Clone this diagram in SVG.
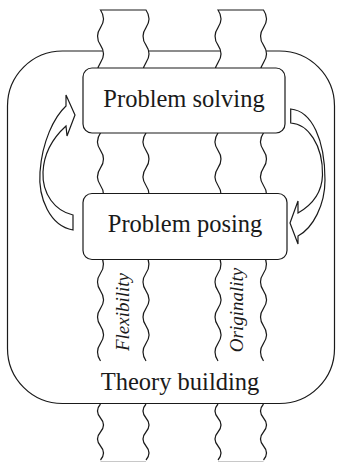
<svg xmlns="http://www.w3.org/2000/svg" xmlns:xlink="http://www.w3.org/1999/xlink" width="338" height="463" viewBox="0 0 338 463">
<style>
.ln{fill:none;stroke:#1a1a1a;stroke-width:1.2}
.fl{fill:#fff;stroke:none}
.bx{fill:#fff;stroke:#1a1a1a;stroke-width:1.2}
.t{font-family:"Liberation Serif","Times New Roman",serif;font-size:24.5px;fill:#1a1a1a;text-anchor:middle}
.ti{font-family:"Liberation Serif","Times New Roman",serif;font-size:19px;font-style:italic;fill:#1a1a1a;text-anchor:middle}
</style>
<defs>
<path id="upFill" class="fl" d="M100.5 10 q6 8.775 0 17.55 t0 17.55 t0 17.55 t0 17.55 t0 17.55 t0 17.55 t0 17.55 t0 17.55 t0 17.55 t0 17.55 t0 17.55 t0 17.55 t0 17.55 t0 17.55 t0 17.55 t0 17.55 t0 17.55 t0 17.55 t0 17.55 t0 17.55 L146 361 q-6 -8.775 0 -17.55 t0 -17.55 t0 -17.55 t0 -17.55 t0 -17.55 t0 -17.55 t0 -17.55 t0 -17.55 t0 -17.55 t0 -17.55 t0 -17.55 t0 -17.55 t0 -17.55 t0 -17.55 t0 -17.55 t0 -17.55 t0 -17.55 t0 -17.55 t0 -17.55 t0 -17.55 Z"/>
<path id="upLine" class="ln" d="M100.5 361 q-6 -8.775 0 -17.55 t0 -17.55 t0 -17.55 t0 -17.55 t0 -17.55 t0 -17.55 t0 -17.55 t0 -17.55 t0 -17.55 t0 -17.55 t0 -17.55 t0 -17.55 t0 -17.55 t0 -17.55 t0 -17.55 t0 -17.55 t0 -17.55 t0 -17.55 t0 -17.55 t0 -17.55 H146 q6 8.775 0 17.55 t0 17.55 t0 17.55 t0 17.55 t0 17.55 t0 17.55 t0 17.55 t0 17.55 t0 17.55 t0 17.55 t0 17.55 t0 17.55 t0 17.55 t0 17.55 t0 17.55 t0 17.55 t0 17.55 t0 17.55 t0 17.55 t0 17.55"/>
<path id="lowFill" class="fl" d="M100.5 404 q-6 7 0 14 t0 14 t0 14 t0 14 L146 460 q6 -7 0 -14 t0 -14 t0 -14 t0 -14 Z"/>
<path id="lowLine" class="ln" d="M100.5 404 q-6 7 0 14 t0 14 t0 14 t0 14 M146 404 q-6 7 0 14 t0 14 t0 14 t0 14"/>
</defs>

<g id="theory-building">
<rect x="7.5" y="51" width="327" height="352.5" rx="55" ry="55" class="bx" stroke-width="1.3"/>
<text class="t" x="180" y="390">Theory building</text>
</g>

<g id="flexibility">
<use href="#upFill" xlink:href="#upFill"/>
<use href="#upLine" xlink:href="#upLine"/>
<use href="#lowFill" xlink:href="#lowFill"/>
<use href="#lowLine" xlink:href="#lowLine"/>
<path d="M100.5 461.5 H146" fill="none" stroke="#c8c8c8" stroke-width="1.2"/>
<text class="ti" transform="translate(128.5 312) rotate(-90)">Flexibility</text>
</g>

<g id="originality">
<g transform="translate(117.5 0)">
<use href="#upFill" xlink:href="#upFill"/>
<use href="#upLine" xlink:href="#upLine"/>
<use href="#lowFill" xlink:href="#lowFill"/>
<use href="#lowLine" xlink:href="#lowLine"/>
<path d="M100.5 461.5 H146" fill="none" stroke="#c8c8c8" stroke-width="1.2"/>
</g>
<text class="ti" transform="translate(243 310) rotate(-90)">Originality</text>
</g>

<g id="problem-solving">
<rect x="83" y="68" width="202" height="65" rx="9" ry="9" class="bx"/>
<text class="t" x="184" y="106.5">Problem solving</text>
</g>

<g id="problem-posing">
<rect x="83" y="193.5" width="204" height="66" rx="9" ry="9" class="bx"/>
<text class="t" x="185" y="231.5">Problem posing</text>
</g>

<g id="connectors">
<path class="bx" d="M73 215 L73 230 C50 226 38 198 40 172 C42 142 54 117 66 106 L66 95 L75 115 L67 136 L66 126 C55 136 44 150 43 172 C42 194 55 211 73 215 Z"/>
<path class="bx" d="M290.7 109 C312 111 325 140 325 180 C325 205 313 228 298 236 L298 244 L290 223 L298 201 L298 213 C312 205 322 192 322.5 175 C323 145 308 124 290.7 123 Z"/>
</g>
</svg>
